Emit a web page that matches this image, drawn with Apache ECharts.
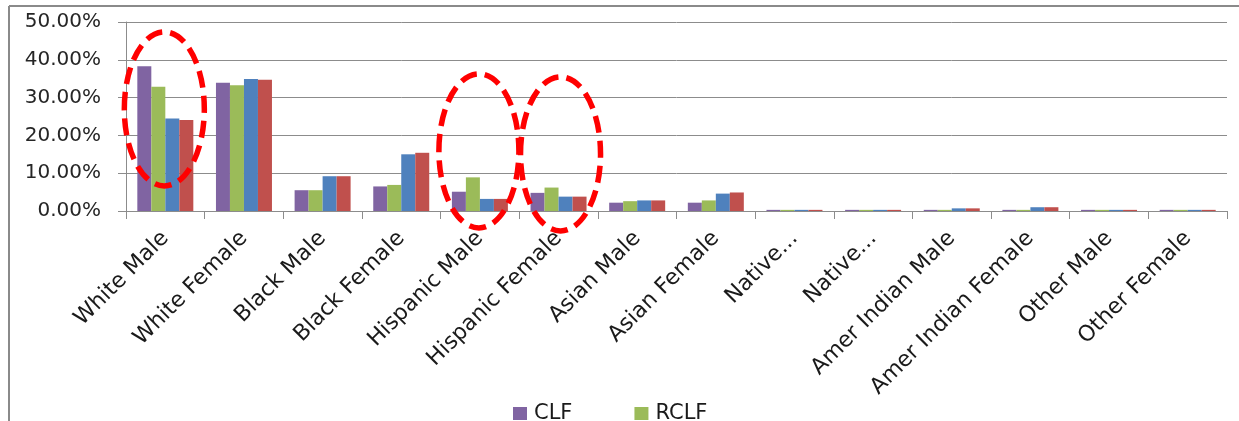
<!DOCTYPE html>
<html>
<head>
<meta charset="utf-8">
<script src="https://cdn.jsdelivr.net/npm/echarts@6/dist/echarts.min.js"></script>
<style>
html,body{margin:0;padding:0;background:#fff;}
#c{width:1239px;height:421px;}
</style>
</head>
<body>
<div id="c"></div>
<script>
var categories = ['White Male','White Female','Black Male','Black Female','Hispanic Male','Hispanic Female','Asian Male','Asian Female','Native...','Native...','Amer Indian Male','Amer Indian Female','Other Male','Other Female'];
var clf   = [0.383,0.339,0.055,0.065,0.051,0.048,0.022,0.022,0.003,0.003,0.003,0.003,0.003,0.003];
var rclf  = [0.329,0.333,0.055,0.069,0.089,0.062,0.026,0.028,0.003,0.003,0.003,0.003,0.003,0.003];
var ser3  = [0.245,0.349,0.092,0.150,0.032,0.038,0.028,0.046,0.003,0.003,0.007,0.010,0.003,0.003];
var ser4  = [0.241,0.347,0.092,0.154,0.032,0.038,0.028,0.049,0.003,0.003,0.007,0.010,0.003,0.003];
var yTicks = [0,0.1,0.2,0.3,0.4,0.5];
// highlighted groups: [category index, centre value]
var highlights = [[0,0.27],[4,0.159],[5,0.151]];

var FONT = 'DejaVu Sans';
var chart = echarts.init(document.getElementById('c'), null, {renderer:'canvas'});
var indexedCats = categories.map(function(c,i){return i;});
var option = {
  animation:false,
  color:['#8064A2','#9BBB59','#4F81BD','#C0504D'],
  grid:{left:126,right:12,top:22,bottom:210,containLabel:false},
  legend:{
    data:['CLF','RCLF'],
    left:513, top:403, padding:0,
    itemWidth:14, itemHeight:13, icon:'rect', itemGap:62,
    textStyle:{fontFamily:FONT,fontSize:21,color:'#1a1a1a',padding:[0,0,0,2]}
  },
  xAxis:{
    type:'category',
    data:indexedCats,
    axisLine:{lineStyle:{color:'#8c8c8c',width:1}},
    axisTick:{show:true,length:8,alignWithLabel:false,lineStyle:{color:'#8c8c8c'}},
    axisLabel:{interval:0,rotate:45,margin:24,fontFamily:FONT,fontSize:22,color:'#1a1a1a',
      formatter:function(v){return categories[v];}}
  },
  yAxis:{
    type:'value',min:0,max:0.5,interval:0.1,
    axisLine:{show:true,lineStyle:{color:'#8c8c8c',width:1}},
    axisTick:{show:true,length:8,inside:false,lineStyle:{color:'#8c8c8c'}},
    splitLine:{lineStyle:{color:'#8c8c8c',width:1}},
    axisLabel:{margin:25,fontFamily:FONT,fontSize:20,color:'#262626',
      formatter:function(v){return (v*100).toFixed(2)+'%';}}
  },
  series:[
    {name:'CLF',type:'bar',data:clf,barWidth:14,barGap:'0%'},
    {name:'RCLF',type:'bar',data:rclf,barWidth:14,barGap:'0%'},
    {name:'Series 3',type:'bar',data:ser3,barWidth:14,barGap:'0%'},
    {name:'Series 4',type:'bar',data:ser4,barWidth:14,barGap:'0%'}
  ]
};
chart.setOption(option);

var g = [
  {type:'line',shape:{x1:9,y1:6,x2:1239,y2:6},style:{stroke:'#8a8a8a',lineWidth:2},silent:true},
  {type:'line',shape:{x1:9,y1:6,x2:9,y2:421},style:{stroke:'#8a8a8a',lineWidth:2},silent:true}
];
var offsets = [-1,-1,2];
highlights.forEach(function(h,i){
  var p = chart.convertToPixel({gridIndex:0},[h[0],h[1]]);
  g.push({type:'ellipse',shape:{cx:p[0]+offsets[i],cy:p[1],rx:40,ry:77},
    style:{fill:null,stroke:'#ff0000',lineWidth:5.5,lineDash:[17,8]},z:100,silent:true});
});
chart.setOption({graphic:g});
</script>
</body>
</html>
